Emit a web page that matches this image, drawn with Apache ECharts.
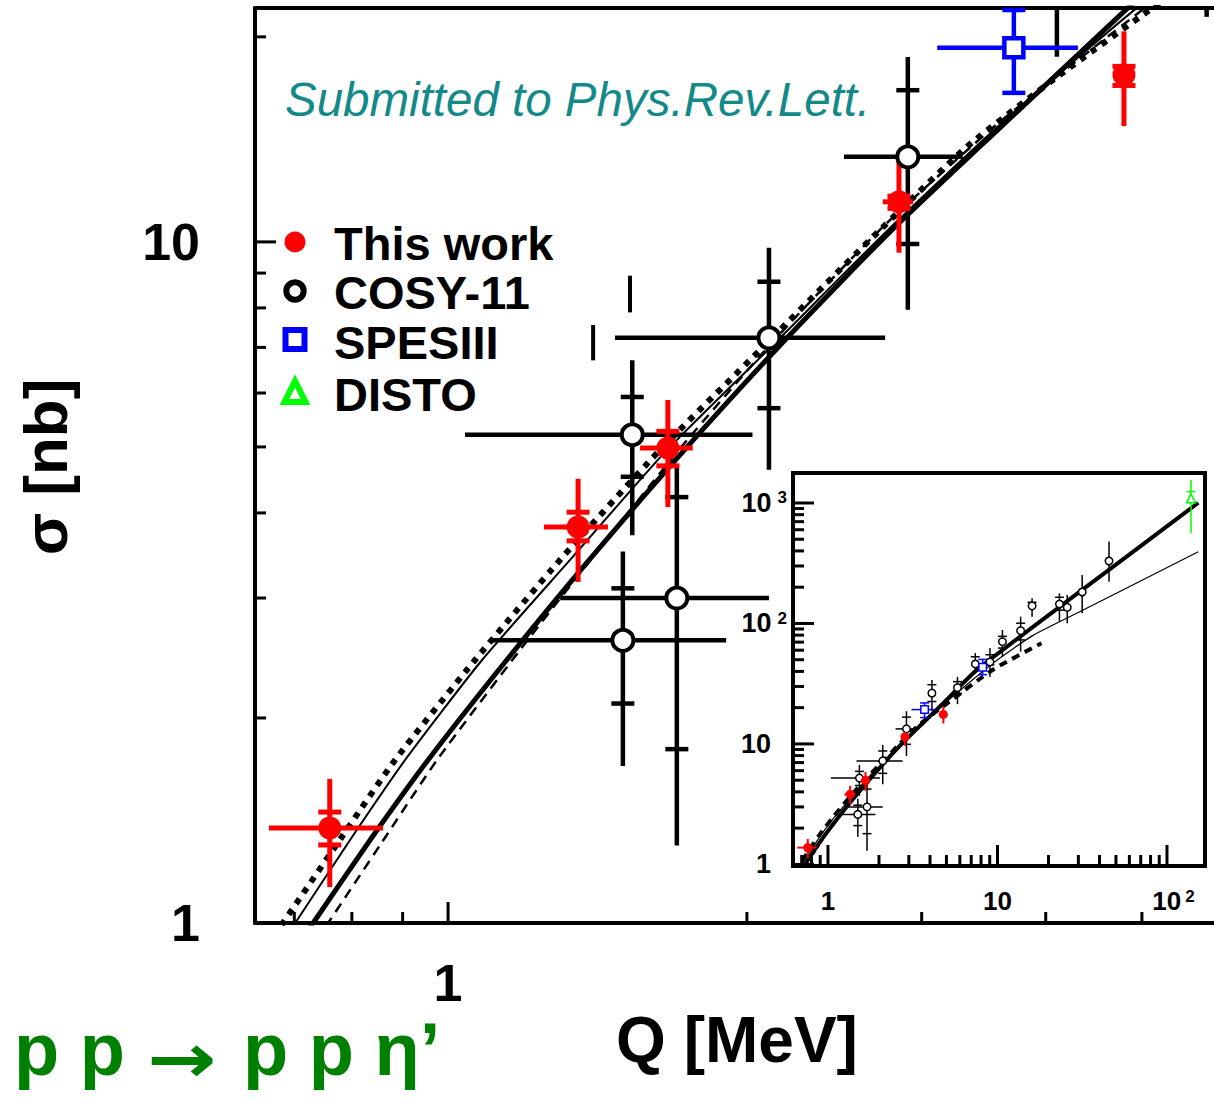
<!DOCTYPE html>
<html><head><meta charset="utf-8">
<script src="https://cdn.jsdelivr.net/npm/echarts@6/dist/echarts.min.js"></script>
<style>html,body{margin:0;padding:0;background:#fff}#c{width:1214px;height:1099px}</style>
</head><body><div id="c"></div>
<script>
// ================= DATA =================
// "This work" (red)
const twQ   = [0.760, 1.352, 1.665, 2.846, 4.796];
const twSig = [1.379, 3.815, 4.98, 11.45, 17.59];
const twQlo = [0.660, 1.249, 1.561, 2.741, 4.75];
const twQhi = [0.860, 1.449, 1.764, 2.94, 4.84];
const twSlo = [1.129, 3.168, 4.08, 9.64, 14.79];
const twShi = [1.628, 4.49, 5.86, 13.2, 20.38];
const twClo = [1.302, 3.64, 4.69, 11.2, 16.97];
const twChi = [1.455, 4.01, 5.27, 11.67, 18.1];

// COSY-11 (open circles)
const cyQ   = [1.500, 1.700, 1.533, 2.105, 2.905, 4.105, 5.81, 7.4, 9.03, 10.7, 13.7, 16.0, 23.2, 25.8, 31.6, 45.5];
const cySig = [2.60, 3.00, 5.21, 7.23, 13.33, 26.4, 29.3, 46.1, 47.9, 70.6, 87.1, 139.8, 145, 136, 182.5, 330];
const cyQlo = [1.102, 1.297, 1.040, 1.473, 2.505, null, null, null, null, null, null, null, null, null, null, null];
const cyQhi = [1.906, 2.105, 2.026, 2.756, 3.30, null, null, null, null, null, null, null, null, null, null, null];
const cySlo = [1.70, 1.30, 3.71, 4.63, 7.95, 18.7, 21.4, 38.6, 36.1, 52.9, 58.4, 113.9, 103.6, 100.5, 121.6, 222];
const cyShi = [3.51, 4.71, 6.70, 9.80, 18.68, 34, 36.1, 56.7, 62.5, 88.2, 113.9, 161.6, 178, 172, 253, 478];
const cyClo = [2.10, 1.80, 4.52, 5.70, 9.93, 22.5, 26.3, null, 45.3, 62.5, 73.0, null, 129, null, null, null];
const cyChi = [3.10, 4.22, 5.92, 8.74, 16.7, 31, 32.9, 52.9, 55, 78.2, 100.5, 150, 165, null, null, null];

// SPESIII (open squares)
const spQ   = [3.715, 8.18];
const spSig = [19.27, 43.3];
const spQlo = [3.11, 7.75];
const spQhi = [4.31, 8.65];
const spSlo = [16.55, 37.6];
const spShi = [21.9, 50.3];

// DISTO (open triangle)
const dsQ   = [138.6];
const dsSig = [1094];
const dsSlo = [562];
const dsShi = [1559];
const dsChi = [1244];

// isolated error-bar fragments in main panel [Q, sigma from, sigma to]
const strayQ  = [1.525, 1.400];
const strayS1 = [7.88, 6.70];
const strayS2 = [8.92, 7.55];

// model curves
const thickQ = [0.6806, 0.7313, 0.8346, 0.9547, 1.1414, 1.3738, 1.7128, 2.1848, 2.7868, 3.5962, 4.8394, 7.54, 31.6, 153];
const thickS = [0.8591, 1.0, 1.3241, 1.7353, 2.4165, 3.3549, 4.8668, 7.1782, 10.344, 14.704, 22.059, 41, 189.7, 1005];
const thinQ  = [0.6540, 0.7015, 0.7966, 0.9052, 1.0820, 1.3270, 1.6619, 2.1348, 2.7547, 3.5962, 4.9415, 9.44, 16.3, 31.6, 153];
const thinS  = [0.8591, 1.0, 1.3241, 1.7353, 2.4329, 3.4121, 4.9500, 7.1059, 10.309, 14.854, 22.059, 47, 80, 128, 394];
const dotQ   = [0.6346, 0.6817, 0.7692, 0.8844, 1.0646, 1.2966, 1.6352, 2.0622, 2.6607, 3.3316, 4.1336, 5.0922, 9.44, 18.2];
const dotS   = [0.8591, 1.0, 1.2930, 1.7353, 2.4329, 3.4121, 4.9500, 6.9396, 10.068, 13.790, 17.591, 21.911, 41.5, 68.5];
const dashQ  = [0.7047, 0.7571, 0.8582, 0.9748, 1.1816, 1.4228, 1.7247, 2.1497, 2.7547, 3.5962, 5.0337];
const dashS  = [0.8591, 1.0, 1.3152, 1.7353, 2.5170, 3.5534, 5.0345, 7.2762, 10.591, 15.005, 22.059];

// ticks
const mainXTicks = [0.7, 0.8, 0.9, 1, 2, 3, 4, 5];
const mainXMajor = [1];
const mainYTicks = [2, 3, 4, 5, 6, 7, 8, 9, 10, 20];
const mainYMajor = [10];
const insXTicks = [0.7, 0.8, 0.9, 1, 2, 3, 4, 5, 6, 7, 8, 9, 10, 20, 30, 40, 50, 60, 70, 80, 90, 100];
const insXMajor = [1, 10, 100];
const insYTicks = [1, 2, 3, 4, 5, 6, 7, 8, 9, 10, 20, 30, 40, 50, 60, 70, 80, 90, 100, 200, 300, 400, 500, 600, 700, 800, 900, 1000];
const insYMajor = [1, 10, 100, 1000];

// axis ranges
const mainX = [0.639, 5.91], mainY = [1, 22.05];
const insX = [0.622, 167.6], insY = [0.97, 1774];

// ================= CHART =================
const FF = '"Liberation Sans", Arial, Helvetica, sans-serif';
const chart = echarts.init(document.getElementById('c'), null, {renderer: 'svg'});

const zip = (...arrs) => arrs[0].map((_, i) => arrs.map(a => a[i]));
const pos = v => (v !== null && v !== undefined && isFinite(v) && v > 0);

function tickSeries(xi, yi, xT, xM, yT, yM, xMin, yMin, majLen, minLen, lw, z) {
  const data = [];
  xT.forEach(v => data.push([v, yMin, 0, xM.includes(v) ? 1 : 0]));
  yT.forEach(v => data.push([xMin, v, 1, yM.includes(v) ? 1 : 0]));
  return {
    type: 'custom', xAxisIndex: xi, yAxisIndex: yi, data, encode: {x: 0, y: 1}, z: z || 8, silent: true,
    renderItem: (params, api) => {
      const p = api.coord([api.value(0), api.value(1)]);
      const len = api.value(3) ? majLen : minLen;
      if (api.value(2) === 0)
        return {type: 'line', shape: {x1: p[0], y1: p[1], x2: p[0], y2: p[1] - len}, style: {stroke: '#000', lineWidth: lw}};
      return {type: 'line', shape: {x1: p[0], y1: p[1], x2: p[0] + len, y2: p[1]}, style: {stroke: '#000', lineWidth: lw}};
    }
  };
}

function errSeries(xi, yi, rows, color, lw, capW, z) {
  return {
    type: 'custom', xAxisIndex: xi, yAxisIndex: yi, data: rows, encode: {x: 0, y: 1}, z: z || 6, silent: true,
    renderItem: (params, api) => {
      const r = params.coordSys;
      const X0 = r.x, X1 = r.x + r.width, Y0 = r.y, Y1 = r.y + r.height;
      const row = rows[params.dataIndex];
      const Q = row[0], S = row[1];
      const ch = [];
      const seg = (x1, y1, x2, y2) => ch.push({type: 'line', shape: {x1, y1, x2, y2}, style: {stroke: color, lineWidth: lw}});
      const vl = (x, ya, yb) => { if (x < X0 - 1 || x > X1 + 1) return; const a = Math.max(Math.min(ya, yb), Y0), b = Math.min(Math.max(ya, yb), Y1); if (b > a) seg(x, a, x, b); };
      const hl = (y, xa, xb) => { if (y < Y0 - 1 || y > Y1 + 1) return; const a = Math.max(Math.min(xa, xb), X0), b = Math.min(Math.max(xa, xb), X1); if (b > a) seg(a, y, b, y); };
      const c = api.coord([Q, S]);
      if (pos(row[4]) && pos(row[5])) vl(c[0], api.coord([Q, row[4]])[1], api.coord([Q, row[5]])[1]);
      if (pos(row[2]) && pos(row[3])) hl(c[1], api.coord([row[2], S])[0], api.coord([row[3], S])[0]);
      [6, 7].forEach(i => { if (pos(row[i])) { const y = api.coord([Q, row[i]])[1]; hl(y, c[0] - capW / 2, c[0] + capW / 2); } });
      return {type: 'group', children: ch};
    }
  };
}

const twRows = zip(twQ, twSig, twQlo, twQhi, twSlo, twShi, twClo, twChi);
const cyRows = zip(cyQ, cySig, cyQlo, cyQhi, cySlo, cyShi, cyClo, cyChi);
const spRows = zip(spQ, spSig, spQlo, spQhi, spSlo, spShi, spSlo, spShi);
const dsRows = zip(dsQ, dsSig, dsQ.map(() => null), dsQ.map(() => null), dsSlo, dsShi, dsQ.map(() => null), dsChi);
const strayRows = zip(strayQ, strayS1, strayQ.map(() => null), strayQ.map(() => null), strayS1, strayS2, strayQ.map(() => null), strayQ.map(() => null));

function curve(xi, yi, Q, S, w, type, z) {
  return {type: 'line', xAxisIndex: xi, yAxisIndex: yi, data: zip(Q, S), showSymbol: false, smooth: 0.2,
    lineStyle: {color: '#000', width: w, type: type, cap: 'butt'}, z: z || 3, silent: true, animation: false};
}
function scat(xi, yi, Q, S, symbol, size, color, border, bw, z) {
  return {type: 'scatter', xAxisIndex: xi, yAxisIndex: yi, data: zip(Q, S), symbol, symbolSize: size,
    itemStyle: {color, borderColor: border, borderWidth: bw, opacity: 1}, z: z || 10, silent: true};
}

const isPow10 = v => { const l = Math.log10(v); return Math.abs(l - Math.round(l)) < 1e-6; };
const lblMain = v => isPow10(v) ? String(Math.round(v)) : '';
const midText = (x, y, text, font, fill, align) => ({type: 'text', x, y, style: {text, font, fill, textAlign: align || 'left', align: align || 'left', textVerticalAlign: 'middle', verticalAlign: 'middle'}});

const arrow = midText(147, 1059, '\u2192', 'bold 68px "DejaVu Sans"', '#008000');
arrow.scaleX = 1.22;

const option = {
  animation: false,
  backgroundColor: '#fff',
  grid: [
    {left: 255, top: 8, width: 959, height: 915, show: false},
    {left: 793, top: 473, width: 412, height: 393, show: true, borderColor: '#000', borderWidth: 4, backgroundColor: '#fff', z: 20}
  ],
  xAxis: [
    {type: 'log', gridIndex: 0, min: mainX[0], max: mainX[1], axisLine: {show: true, lineStyle: {color: '#000', width: 4}},
      axisTick: {show: false}, splitLine: {show: false}, minorTick: {show: false},
      axisLabel: {formatter: lblMain, fontSize: 52, fontWeight: 'bold', fontFamily: FF, color: '#000', margin: 34, showMinLabel: false, showMaxLabel: false}},
    {type: 'log', gridIndex: 0, position: 'top', min: mainX[0], max: mainX[1], axisLine: {show: true, lineStyle: {color: '#000', width: 4}},
      axisTick: {show: false}, splitLine: {show: false}, axisLabel: {show: false}},
    {type: 'log', gridIndex: 1, min: insX[0], max: insX[1], axisLine: {show: false},
      axisTick: {show: false}, splitLine: {show: false},
      axisLabel: {margin: 22, color: '#000', fontFamily: FF,
        formatter: v => { if (!isPow10(v)) return ''; const e = Math.round(Math.log10(v)); if (e === 0) return '{b|1}'; if (e === 1) return '{b|10}'; return '{g|}{b|10}{s|' + e + '}'; },
        rich: {b: {fontSize: 26, fontWeight: 'bold', fontFamily: FF, color: '#000'},
               s: {fontSize: 17, fontWeight: 'bold', fontFamily: FF, color: '#000', verticalAlign: 'top', padding: [0, 0, 0, 4]},
               g: {width: 13}}}}
  ],
  yAxis: [
    {type: 'log', gridIndex: 0, min: mainY[0], max: mainY[1], axisLine: {show: true, lineStyle: {color: '#000', width: 4}},
      axisTick: {show: false}, splitLine: {show: false},
      axisLabel: {formatter: lblMain, fontSize: 52, fontWeight: 'bold', fontFamily: FF, color: '#000', margin: 55, showMaxLabel: false}},
    {type: 'log', gridIndex: 1, min: insY[0], max: insY[1], axisLine: {show: false},
      axisTick: {show: false}, splitLine: {show: false},
      axisLabel: {margin: 6, color: '#000', fontFamily: FF,
        formatter: v => { if (!isPow10(v)) return ''; const e = Math.round(Math.log10(v)); if (e === 0) return '{b|1}{g|}'; if (e === 1) return '{b|10}{g|}'; return '{b|10}{s|' + e + '}'; },
        rich: {b: {fontSize: 27, fontWeight: 'bold', fontFamily: FF, color: '#000'},
               s: {fontSize: 17, fontWeight: 'bold', fontFamily: FF, color: '#000', verticalAlign: 'top', padding: [0, 0, 0, 6]},
               g: {width: 16}}}}
  ],
  series: [
    // ---- main panel ----
    curve(0, 0, dashQ, dashS, 2.5, [10, 7]),
    curve(0, 0, thinQ, thinS, 2),
    curve(0, 0, dotQ, dotS, 6, [6, 7]),
    curve(0, 0, thickQ, thickS, 5),
    tickSeries(0, 0, mainXTicks, mainXMajor, mainYTicks, mainYMajor, mainX[0], mainY[0], 21, 11, 3),
    errSeries(0, 0, strayRows, '#000', 4, 0),
    errSeries(0, 0, cyRows, '#000', 4.5, 23),
    errSeries(0, 0, spRows, '#0000ff', 4.5, 23),
    errSeries(0, 0, twRows, '#ff0000', 5, 23, 7),
    scat(0, 0, cyQ, cySig, 'circle', 21, '#fff', '#000', 4),
    scat(0, 0, spQ, spSig, 'rect', 19, '#fff', '#0000ff', 4.5),
    scat(0, 0, twQ, twSig, 'circle', 23, '#ff0000', '#ff0000', 0, 11),
    // ---- inset ----
    curve(2, 1, dashQ, dashS, 1, [4, 3], 22),
    curve(2, 1, thinQ, thinS, 1.2, 'solid', 22),
    curve(2, 1, dotQ, dotS, 4, [8, 6], 22),
    curve(2, 1, thickQ, thickS, 4, 'solid', 22),
    tickSeries(2, 1, insXTicks, insXMajor, insYTicks, insYMajor, insX[0], insY[0], 21, 11, 3, 22),
    errSeries(2, 1, cyRows, '#000', 1.5, 9, 23),
    errSeries(2, 1, spRows, '#0000ff', 1.5, 9, 23),
    errSeries(2, 1, dsRows, '#00ff00', 1.5, 9, 23),
    errSeries(2, 1, twRows, '#ff0000', 2, 6, 24),
    scat(2, 1, cyQ, cySig, 'circle', 7.5, '#fff', '#000', 1.5, 25),
    scat(2, 1, spQ, spSig, 'rect', 7.5, '#fff', '#0000ff', 1.5, 25),
    scat(2, 1, dsQ, dsSig, 'triangle', 9, '#fff', '#00ff00', 1.5, 25),
    scat(2, 1, twQ, twSig, 'circle', 9, '#ff0000', '#ff0000', 0, 26)
  ],
  graphic: [
    midText(285, 99, 'Submitted to Phys.Rev.Lett.', 'italic 47.5px ' + FF, '#138989'),
    // legend
    {type: 'circle', shape: {cx: 295, cy: 242, r: 10.5}, style: {fill: '#ff0000'}},
    {type: 'circle', shape: {cx: 295, cy: 291, r: 8.7}, style: {fill: '#fff', stroke: '#000', lineWidth: 6}},
    {type: 'rect', shape: {x: 285.5, y: 330, width: 19, height: 19}, style: {fill: '#fff', stroke: '#0000ff', lineWidth: 6}},
    {type: 'polygon', shape: {points: [[295, 381], [284.5, 402], [305.5, 402]]}, style: {fill: '#fff', stroke: '#00ff00', lineWidth: 6, lineJoin: 'miter'}},
    midText(334, 243, 'This work', 'bold 47px ' + FF, '#000'),
    midText(334, 292, 'COSY-11', 'bold 47px ' + FF, '#000'),
    midText(334, 342, 'SPESIII', 'bold 47px ' + FF, '#000'),
    midText(334, 394, 'DISTO', 'bold 47px ' + FF, '#000'),
    // axis titles
    {type: 'text', x: 45, y: 467, rotation: Math.PI / 2, style: {text: 'σ [nb]', font: 'bold 62px ' + FF, fill: '#000', textAlign: 'center', align: 'center', textVerticalAlign: 'middle', verticalAlign: 'middle'}},
    midText(737, 1040, 'Q [MeV]', 'bold 64px ' + FF, '#000', 'center'),
    // reaction
    midText(14, 1049, 'p p', 'bold 74px ' + FF, '#008000'),
    arrow,
    midText(243, 1049, 'p p \u03b7\u2019', 'bold 74px ' + FF, '#008000')
  ]
};
chart.setOption(option);
</script>
</body></html>
